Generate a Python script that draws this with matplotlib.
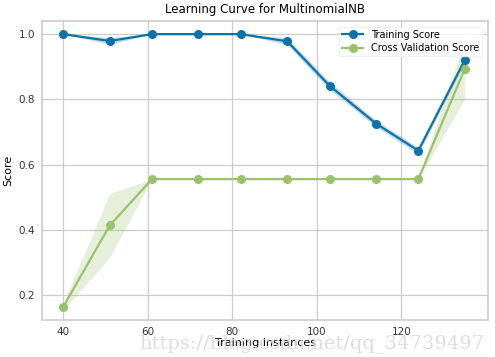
import matplotlib
matplotlib.use('Agg')
import matplotlib.pyplot as plt
import numpy as np

#-------------------------------------------------------------------------
# Data
#-------------------------------------------------------------------------

train_sizes = [40, 51, 61, 72, 82, 93, 103, 114, 124, 135]

train_mean = [1.0, 0.979, 1.0, 1.0, 1.0, 0.978, 0.842, 0.726, 0.643, 0.921]
train_std  = [0.0, 0.010, 0.0, 0.0, 0.0, 0.010, 0.012, 0.010, 0.010, 0.008]

cv_mean = [0.165, 0.414, 0.556, 0.556, 0.556, 0.556, 0.556, 0.556, 0.556, 0.894]
cv_std  = [0.010, 0.098, 0.0, 0.0, 0.0, 0.0, 0.0, 0.0, 0.0, 0.092]

#-------------------------------------------------------------------------
# Style
#-------------------------------------------------------------------------

plt.rcParams['font.family'] = 'DejaVu Sans'
plt.rcParams['font.size']   = 7.5

blue  = '#0C72A8'
green = '#9AC26C'

fig = plt.figure(figsize=(4.95, 3.57), dpi=100)
ax  = fig.add_axes([0.085, 0.104, 0.901, 0.837])

x = np.array(train_sizes)
tm, ts = np.array(train_mean), np.array(train_std)
cm, cs = np.array(cv_mean), np.array(cv_std)

ax.fill_between(x, tm - ts, tm + ts, color=blue, alpha=0.25, lw=0)
ax.fill_between(x, cm - cs, cm + cs, color=green, alpha=0.25, lw=0)

ax.plot(x, tm, 'o-', color=blue, lw=1.6, ms=5.5, label='Training Score')
ax.plot(x, cm, 'o-', color=green, lw=1.6, ms=5.5, label='Cross Validation Score')

ax.set_xlim(35, 140.5)
ax.set_ylim(0.125, 1.04)
ax.set_xticks([40, 60, 80, 100, 120])
ax.set_yticks([0.2, 0.4, 0.6, 0.8, 1.0])

ax.set_title('Learning Curve for MultinomialNB', fontsize=8.5)
ax.set_xlabel('Training Instances', fontsize=8, labelpad=1)
ax.set_ylabel('Score', fontsize=8)

ax.grid(True, color='#cccccc', lw=0.9)
ax.set_axisbelow(True)
for s in ax.spines.values():
  s.set_color('#cccccc')
  s.set_linewidth(1.2)
ax.tick_params(length=0, pad=5, colors='#333333')

leg = ax.legend(loc='upper right', frameon=True, fontsize=7,
                borderaxespad=0.6, handlelength=2.2, borderpad=0.3,
                labelspacing=0.35)
leg.get_frame().set_edgecolor('#eeeeee')

# watermark
fig.text(0.978, 0.012, 'https://blog.csdn.net/qq_34739497', ha='right',
         va='bottom', family='DejaVu Serif', fontsize=14, color='#dadada',
         alpha=0.9)

fig.savefig('out.png', dpi=100)
